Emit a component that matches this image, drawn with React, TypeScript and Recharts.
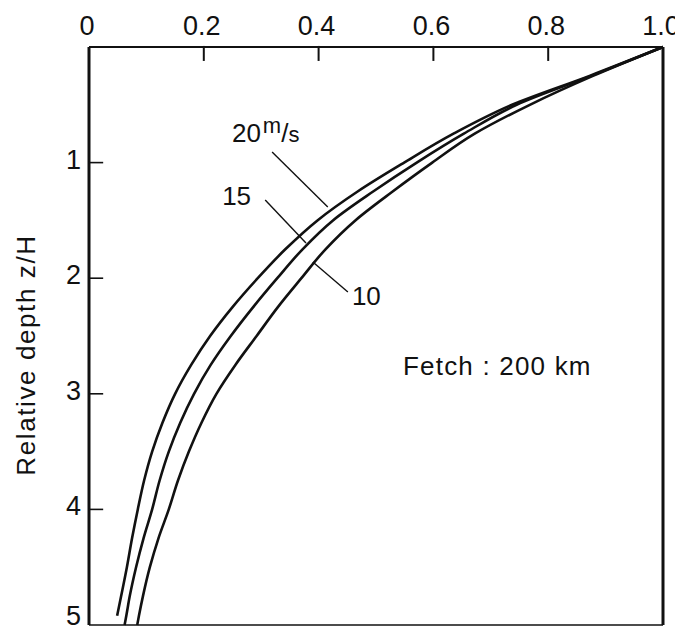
import React from "react";
import { LineChart, Line, XAxis, YAxis, ReferenceLine, ReferenceDot } from "recharts";

// Relative depth z/H (vertical axis, increasing downward)
const depth = [0, 0.25, 0.5, 0.75, 1.0, 1.25, 1.5, 1.75, 2.0, 2.25, 2.5, 2.75, 3.0, 3.25, 3.5, 3.75, 4.0, 4.25, 4.5, 4.75, 4.92, 5.0];
// Relative value (horizontal axis) for each wind speed
const wind20 = [1.0, 0.872, 0.737, 0.635, 0.549, 0.468, 0.398, 0.342, 0.294, 0.25, 0.211, 0.178, 0.15, 0.128, 0.11, 0.096, 0.085, 0.075, 0.066, 0.056, 0.049, null];
const wind15 = [1.0, 0.875, 0.745, 0.653, 0.571, 0.495, 0.425, 0.372, 0.328, 0.286, 0.247, 0.212, 0.183, 0.159, 0.139, 0.123, 0.11, 0.095, 0.082, 0.071, 0.065, 0.062];
const wind10 = [1.0, 0.878, 0.768, 0.672, 0.598, 0.529, 0.464, 0.412, 0.37, 0.329, 0.292, 0.255, 0.222, 0.196, 0.174, 0.155, 0.139, 0.121, 0.106, 0.094, 0.087, 0.084];

const xTicks = [0, 0.2, 0.4, 0.6, 0.8, 1.0];
const xTickLabels = ["0", "0.2", "0.4", "0.6", "0.8", "1.0"];
const yTicks = [1, 2, 3, 4, 5];
const yTickLabels = ["1", "2", "3", "4", "5"];

const yAxisTitle = "Relative depth z/H";
const fetchNote = "Fetch : 200 km";

// annotation anchors in data units (x value, depth)
const noteLeaders = [
  { from: { x: 0.319, y: 0.908 }, to: { x: 0.416, y: 1.384 } },
  { from: { x: 0.307, y: 1.324 }, to: { x: 0.378, y: 1.696 } },
  { from: { x: 0.39, y: 1.86 }, to: { x: 0.451, y: 2.12 } },
];
const noteTexts = [
  { x: 0.249, y: 0.822, main: "20", sup: "m", tail: "/", sub: "s" },
  { x: 0.232, y: 1.367, main: "15" },
  { x: 0.458, y: 2.232, main: "10" },
];
const fetchPos = { x: 0.547, y: 2.837 };

// inward tick marks: anchored at the middle of each mark (data units)
const X_TICK_MID = 0.06;
const Y_TICK_MID = 0.0125;
const TICK_HALF = 7; // px

const rows = depth.map((z, i) => ({ z, w20: wind20[i], w15: wind15[i], w10: wind10[i] }));

const FONT = '"Liberation Sans", Arial, Helvetica, sans-serif';
const INK = "#111";
const IN_TICK = 14;
const TOP_GAP = 12;
const LEFT_GAP = 8;

function TopTick(props: any) {
  const { x, y, payload } = props;
  const v = payload.value;
  const idx = xTicks.indexOf(v);
  const label = idx >= 0 ? xTickLabels[idx] : String(v);
  return (
    <text x={x - 2} y={y} textAnchor="middle" fontSize={27} fontFamily={FONT} fill={INK}>
      {label}
    </text>
  );
}

function LeftTick(props: any) {
  const { x, y, payload } = props;
  const v = payload.value;
  const idx = yTicks.indexOf(v);
  const label = idx >= 0 ? yTickLabels[idx] : String(v);
  const dy = v >= 5 ? 0 : 6;
  return (
    <text x={x} y={y + dy} textAnchor="end" fontSize={27} fontFamily={FONT} fill={INK}>
      {label}
    </text>
  );
}

function YTitle(props: any) {
  const vb = props.viewBox || { x: 0, y: 0, width: 0, height: 0 };
  const cx = vb.x + 6;
  const cy = vb.y + vb.height / 2 + 19;
  return (
    <text
      x={cx}
      y={cy}
      transform={`rotate(-90 ${cx} ${cy})`}
      textAnchor="middle"
      fontSize={26}
      letterSpacing={1.6}
      fontFamily={FONT}
      fill={INK}
    >
      {yAxisTitle}
    </text>
  );
}

export default function App() {
  return (
    <div style={{ background: "#fff" }}>
      <LineChart
        width={675}
        height={624}
        data={rows}
        layout="vertical"
        margin={{ top: 9, right: 10, bottom: 2, left: 21 }}
      >
        <XAxis
          xAxisId="top"
          type="number"
          orientation="top"
          domain={[0, 1]}
          ticks={xTicks}
          interval={0}
          height={30}
          tickSize={-IN_TICK}
          tickMargin={IN_TICK + TOP_GAP}
          tickLine={false}
          axisLine={{ stroke: INK, strokeWidth: 2 }}
          tick={<TopTick />}
        />
        <XAxis
          xAxisId="bottom"
          type="number"
          orientation="bottom"
          domain={[0, 1]}
          height={5}
          tick={false}
          tickLine={false}
          axisLine={{ stroke: INK, strokeWidth: 1.6 }}
        />
        <YAxis
          yAxisId="left"
          type="number"
          dataKey="z"
          domain={[0, 5]}
          ticks={yTicks}
          interval={0}
          width={60}
          tickSize={-IN_TICK}
          tickMargin={IN_TICK + LEFT_GAP}
          tickLine={false}
          axisLine={{ stroke: INK, strokeWidth: 3 }}
          tick={<LeftTick />}
          label={(p: any) => <YTitle {...p} />}
        />
        <YAxis
          yAxisId="right"
          type="number"
          orientation="right"
          dataKey="z"
          domain={[0, 5]}
          width={10}
          tick={false}
          tickLine={false}
          axisLine={{ stroke: INK, strokeWidth: 3 }}
        />
        <Line xAxisId="top" yAxisId="left" dataKey="w20" type="monotone" stroke={INK} strokeWidth={2.6} dot={false} isAnimationActive={false} />
        <Line xAxisId="top" yAxisId="left" dataKey="w15" type="monotone" stroke={INK} strokeWidth={2.6} dot={false} isAnimationActive={false} />
        <Line xAxisId="top" yAxisId="left" dataKey="w10" type="monotone" stroke={INK} strokeWidth={2.6} dot={false} isAnimationActive={false} />
        {xTicks
          .filter((v) => v > 0 && v < 1)
          .map((v) => (
            <ReferenceDot
              key={`xt${v}`}
              xAxisId="top"
              yAxisId="left"
              x={v}
              y={X_TICK_MID}
              r={1}
              shape={(p: any) => (
                <path d={`M${p.cx},${p.cy - TICK_HALF - 1}V${p.cy + TICK_HALF}`} stroke={INK} strokeWidth={2} fill="none" />
              )}
            />
          ))}
        {yTicks
          .filter((v) => v > 0 && v < 5)
          .map((v) => (
            <ReferenceDot
              key={`yt${v}`}
              xAxisId="top"
              yAxisId="left"
              x={Y_TICK_MID}
              y={v}
              r={1}
              shape={(p: any) => (
                <path d={`M${p.cx - TICK_HALF - 1},${p.cy}H${p.cx + TICK_HALF}`} stroke={INK} strokeWidth={1.6} fill="none" />
              )}
            />
          ))}
        {noteLeaders.map((l, i) => (
          <ReferenceLine
            key={`ld${i}`}
            xAxisId="top"
            yAxisId="left"
            segment={[l.from, l.to]}
            stroke={INK}
            strokeWidth={1.4}
          />
        ))}
        {noteTexts.map((t, i) => (
          <ReferenceDot
            key={`nt${i}`}
            xAxisId="top"
            yAxisId="left"
            x={t.x}
            y={t.y}
            r={0}
            shape={(p: any) => (
              <text x={p.cx} y={p.cy} fontSize={26} fontFamily={FONT} fill={INK}>
                <tspan>{t.main}</tspan>
                {t.sup && (
                  <>
                    <tspan fontSize={22} dy={-9} dx={2}>{t.sup}</tspan>
                    <tspan dy={9}>{t.tail}</tspan>
                    <tspan fontSize={22}>{t.sub}</tspan>
                  </>
                )}
              </text>
            )}
          />
        ))}
        <ReferenceDot
          xAxisId="top"
          yAxisId="left"
          x={fetchPos.x}
          y={fetchPos.y}
          r={0}
          shape={(p: any) => (
            <text x={p.cx} y={p.cy} fontSize={26} letterSpacing={1.2} fontFamily={FONT} fill={INK}>
              {fetchNote}
            </text>
          )}
        />
      </LineChart>
    </div>
  );
}
